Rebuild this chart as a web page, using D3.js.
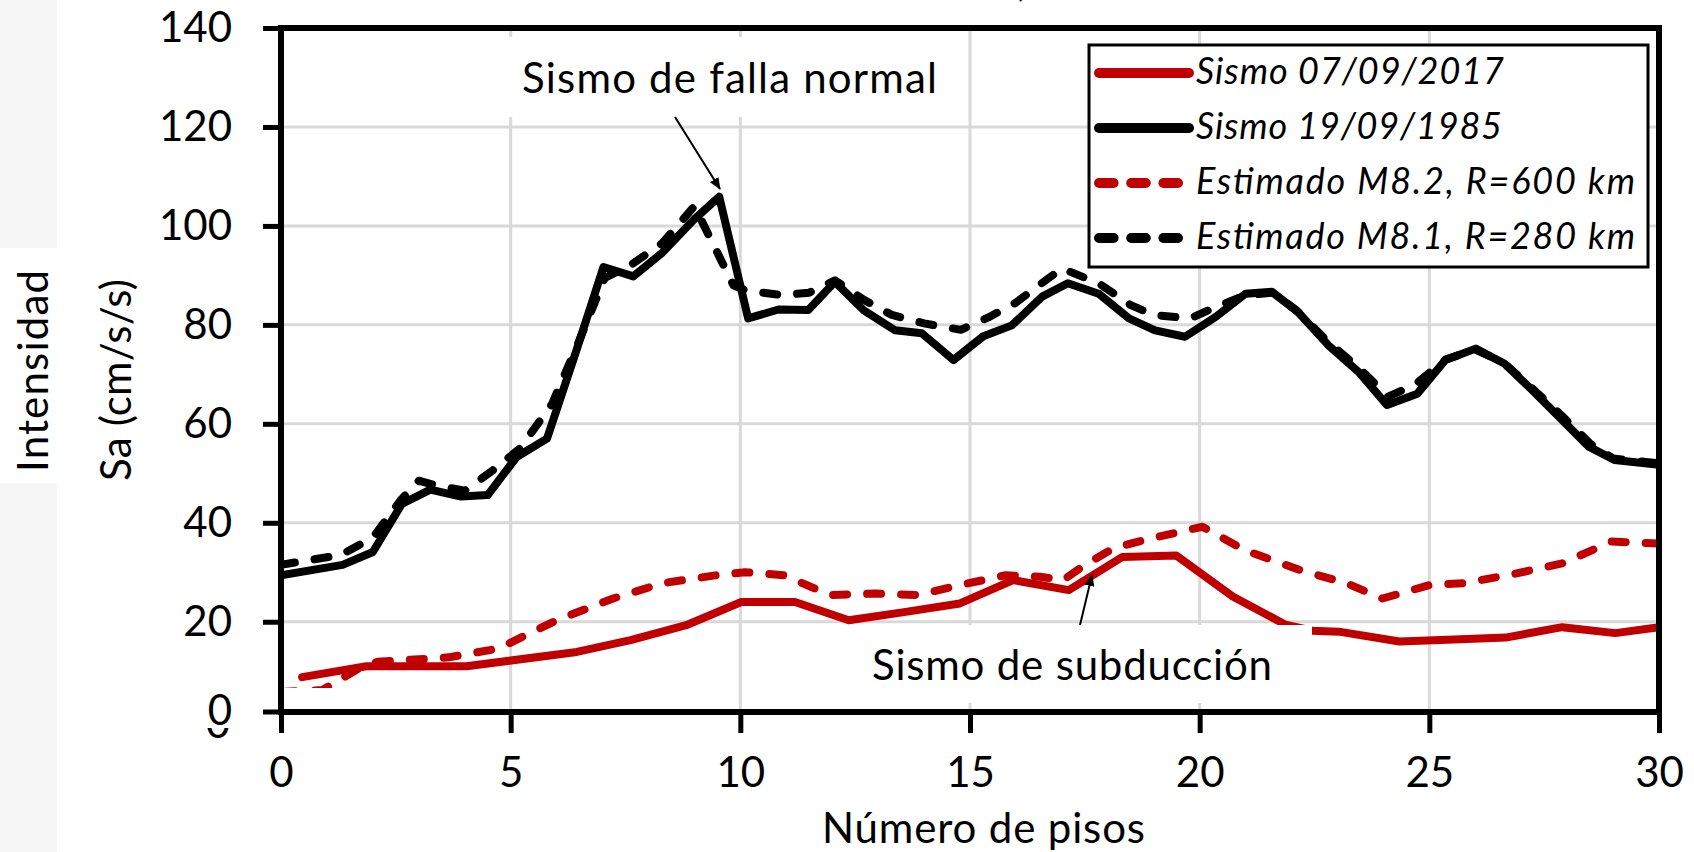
<!DOCTYPE html>
<html><head><meta charset="utf-8">
<script src="https://cdn.jsdelivr.net/npm/d3@7"></script>
<style>
body{margin:0;background:#fff;}
svg{display:block;}
text{font-family:Lato,"Open Sans",sans-serif;fill:#000;}
</style>
</head><body>
<svg id="chart" width="1694" height="852"></svg>
<script>
// ---------------- data ----------------
const xTicks = [0, 5, 10, 15, 20, 25, 30];
const yTicks = [20, 40, 60, 80, 100, 120, 140];

const s2017_x = [0.46,1.86,4.04,6.44,7.61,8.82,10.02,11.19,12.36,13.6,14.78,15.94,17.15,18.32,19.49,20.72,21.87,22.45,23.03,24.35,25.54,26.66,27.89,29.05,30];
const s2017_y = [8.8,11.0,11.0,13.9,16.3,19.3,24.0,24.0,20.3,22.0,23.7,28.4,26.4,33.1,33.4,25.1,19.4,18.2,18.0,16.0,16.4,16.8,18.9,17.7,18.9];

const s1985_x = [0,1.34,2.0,2.63,3.25,3.92,4.5,5.13,5.79,6.42,7.02,7.67,8.29,8.98,9.54,10.17,10.83,11.48,12.06,12.68,13.37,13.95,14.64,15.29,15.91,16.57,17.13,17.8,18.46,19.03,19.68,20.35,21.0,21.57,22.14,22.8,23.46,24.08,24.74,25.35,26.01,26.63,27.24,27.9,28.47,29.03,30];
const s1985_y = [29.4,31.5,34.1,43.8,46.7,45.3,45.6,53.3,57.0,74.5,91.7,89.8,94.5,101.2,105.9,81.3,83.1,83.0,88.7,83.0,78.9,78.3,72.9,77.7,79.9,85.7,88.4,86.3,81.3,78.9,77.6,81.6,86.3,86.7,82.6,75.9,70.5,63.8,66.1,72.9,75.2,72.2,66.8,60.7,55.4,52.7,51.7];

const est82_x = [0,0.9,1.7,2.1,3.65,4.74,6.0,7.23,8.31,9.48,10.1,10.96,11.94,12.94,13.86,14.78,15.78,16.52,17.03,17.44,18.11,18.78,20.06,20.97,22.2,23.19,23.98,25.0,25.75,26.82,27.89,28.97,30];
const est82_y = [5.8,6.2,10.6,11.9,12.8,14.6,20.3,24.7,27.8,29.4,30.0,29.4,25.4,25.7,25.4,27.4,29.4,29.1,28.4,31.1,34.8,36.5,39.2,34.5,30.4,27.8,24.7,27.4,27.8,29.6,31.8,36.2,35.8];

const est81_x = [0,1.3,2.0,2.6,3.0,3.4,4.0,4.6,5.2,5.9,6.5,7.05,7.6,8.3,9.0,9.85,10.1,10.9,11.5,12.06,12.7,13.3,14.0,14.8,15.4,16.0,16.5,17.0,17.8,18.5,19.0,19.8,20.35,21.0,21.6,22.1,22.8,23.5,24.1,24.7,25.35,26.0,26.6,27.2,27.9,28.5,29.0,30];
const est81_y = [31.5,33.5,37.0,44.5,48.5,47.5,46.5,50.5,55.0,64.0,77.0,89.5,92.0,96.5,104.0,88.0,87.0,86.0,86.5,89.0,85.0,82.0,80.3,79.0,81.5,84.5,88.0,91.4,88.4,84.0,82.0,81.3,83.6,86.0,86.5,83.0,76.5,71.0,65.5,68.0,73.0,75.0,72.5,67.5,61.5,56.0,53.0,52.0];

const legendLabels = ["Sismo 07/09/2017","Sismo 19/09/1985","Estimado M8.2, R=600 km","Estimado M8.1, R=280 km"];
const xTitle = "Número de pisos";
const yTitle1 = "Intensidad";
const yTitle2 = "Sa (cm/s/s)";
const noteNormal = "Sismo de falla normal";
const noteSub = "Sismo de subducción";

// ---------------- layout ----------------
const svg = d3.select("#chart");
const L = 281, R = 1659, T = 28, B = 712;
const RED = "#c00000";
const x = d3.scaleLinear().domain([0, 30]).range([L, R]);
const y = d3.scaleLinear().domain([0, 140]).range([720.7, T]);

// faint strip at far left
svg.append("rect").attr("x",0).attr("y",0).attr("width",57).attr("height",248).attr("fill","#f6f6f6");
svg.append("rect").attr("x",0).attr("y",483).attr("width",57).attr("height",369).attr("fill","#f6f6f6");

// clipped title fragment at top
svg.append("text").attr("x",1017).attr("y",-4).attr("font-size",42).text(",");

// grid
const grid = svg.append("g").attr("stroke","#d9d9d9").attr("stroke-width",3);
grid.selectAll("line.v").data(xTicks.filter(d => d > 0 && d < 30)).join("line")
  .attr("x1", d => x(d)).attr("x2", d => x(d)).attr("y1", T).attr("y2", B);
grid.selectAll("line.h").data(yTicks.filter(d => d < 140)).join("line")
  .attr("x1", L).attr("x2", R).attr("y1", d => y(d)).attr("y2", d => y(d));

// clip
svg.append("clipPath").attr("id","plotclip").append("rect")
  .attr("x", L).attr("y", T).attr("width", R - L).attr("height", B - T);

const lineGen = d3.line().x(d => x(d[0])).y(d => y(d[1]));
const series = [
  {xs: s2017_x, ys: s2017_y, color: RED, dash: null},
  {xs: s1985_x, ys: s1985_y, color: "#000", dash: null},
  {xs: est82_x, ys: est82_y, color: RED, dash: "14,20"},
  {xs: est81_x, ys: est81_y, color: "#000", dash: "14,20"}
];
const plot = svg.append("g").attr("clip-path","url(#plotclip)");
series.forEach(s => {
  plot.append("path")
    .datum(s.xs.map((v, i) => [v, s.ys[i]]))
    .attr("d", lineGen)
    .attr("fill","none")
    .attr("stroke", s.color)
    .attr("stroke-width", 8)
    .attr("stroke-linejoin","round")
    .attr("stroke-linecap","round")
    .attr("stroke-dasharray", s.dash);
});

// white annotation boxes
svg.append("rect").attr("x",500).attr("y",37).attr("width",455).attr("height",80).attr("fill","#fff");
svg.append("rect").attr("x",849).attr("y",625).attr("width",463).attr("height",78).attr("fill","#fff");
svg.append("rect").attr("x",284).attr("y",688).attr("width",120).attr("height",21).attr("fill","#fff");

// annotations
svg.append("defs").append("marker").attr("id","arrow").attr("viewBox","0 0 12 10")
  .attr("refX",11).attr("refY",5).attr("markerWidth",12).attr("markerHeight",10)
  .attr("markerUnits","userSpaceOnUse").attr("orient","auto")
  .append("path").attr("d","M0,0 L12,5 L0,10 Z").attr("fill","#000");
svg.append("line").attr("x1",675).attr("y1",117).attr("x2",720).attr("y2",189)
  .attr("stroke","#000").attr("stroke-width",2).attr("marker-end","url(#arrow)");
svg.append("line").attr("x1",1080).attr("y1",625).attr("x2",1092).attr("y2",575)
  .attr("stroke","#000").attr("stroke-width",2).attr("marker-end","url(#arrow)");
svg.append("text").attr("x",522).attr("y",93).attr("font-size",42)
  .attr("textLength",415).attr("lengthAdjust","spacing").text(noteNormal);
svg.append("text").attr("x",872).attr("y",680).attr("font-size",42)
  .attr("textLength",400).attr("lengthAdjust","spacing").text(noteSub);

// axes
const yAxis = d3.axisLeft(y).tickValues(yTicks).tickSize(18).tickPadding(31);
const gy = svg.append("g").attr("transform",`translate(${L},0)`).call(yAxis);
const xAxis = d3.axisBottom(x).tickValues(xTicks).tickSize(21).tickPadding(24);
const gx = svg.append("g").attr("transform",`translate(0,${B})`).call(xAxis);
[gx, gy].forEach(g => {
  g.select(".domain").remove();
  g.selectAll(".tick line").attr("stroke","#000").attr("stroke-width",5);
  g.selectAll(".tick text").attr("font-size",42).attr("font-family","Lato, 'Open Sans', sans-serif").attr("fill","#000");
});
// zero tick on y at plot bottom
svg.append("line").attr("x1",L-18).attr("x2",L).attr("y1",B).attr("y2",B).attr("stroke","#000").attr("stroke-width",5);
svg.append("text").attr("x",L-49).attr("y",B+13.4).attr("text-anchor","end").attr("font-size",42).text("0");
svg.append("clipPath").attr("id","ghostclip").append("rect").attr("x",200).attr("y",728).attr("width",40).attr("height",20);
svg.append("text").attr("x",L-51).attr("y",738).attr("text-anchor","end").attr("font-size",42)
  .attr("clip-path","url(#ghostclip)").text("0");

// frame
svg.append("rect").attr("x",L).attr("y",T).attr("width",R-L).attr("height",B-T)
  .attr("fill","none").attr("stroke","#000").attr("stroke-width",6);

// titles
svg.append("text").attr("x",822).attr("y",843).attr("font-size",42)
  .attr("textLength",323).attr("lengthAdjust","spacing").text(xTitle);
svg.append("text").attr("transform","translate(48,371) rotate(-90)").attr("text-anchor","middle").attr("font-size",42)
  .attr("textLength",202).attr("lengthAdjust","spacing").text(yTitle1);
svg.append("text").attr("transform","translate(131,380) rotate(-90)").attr("text-anchor","middle").attr("font-size",42)
  .attr("textLength",202).attr("lengthAdjust","spacing").text(yTitle2);

// legend
const legendWidths = [308, 306, 439, 439];
const lg = svg.append("g");
lg.append("rect").attr("x",1089).attr("y",45).attr("width",559).attr("height",222)
  .attr("fill","#fff").attr("stroke","#000").attr("stroke-width",3);
series.forEach((s, i) => {
  const yy = 73 + i * 55;
  lg.append("line").attr("x1",1099).attr("x2",1189).attr("y1",yy).attr("y2",yy)
    .attr("stroke", s.color).attr("stroke-width",10).attr("stroke-linecap","round")
    .attr("stroke-dasharray", s.dash ? "14.6,17.6" : null);
  lg.append("text").attr("x",1196).attr("y",yy+11).attr("font-size",36).attr("font-style","italic")
    .attr("textLength",legendWidths[i]).attr("lengthAdjust","spacing").text(legendLabels[i]);
});
</script>
</body></html>
